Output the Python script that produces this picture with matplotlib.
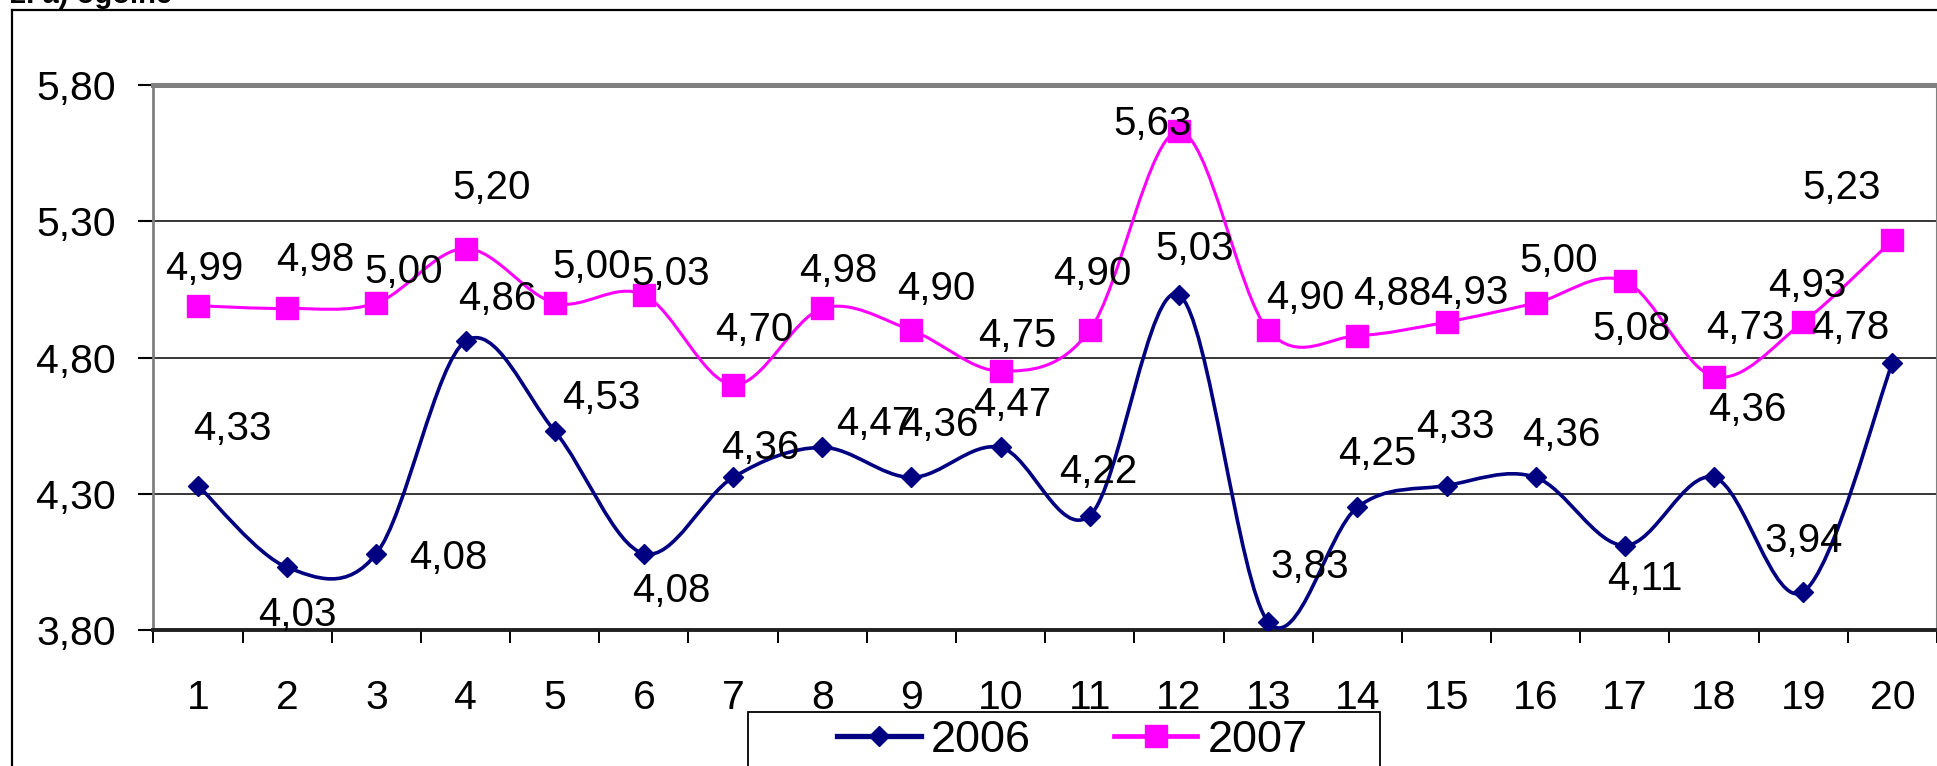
#!/usr/bin/env python3
"""Chart 2 a): yearly scores 2006 vs 2007 with Excel-style smoothed lines."""

import matplotlib

matplotlib.use("Agg")
import matplotlib.pyplot as plt
import numpy as np
from matplotlib.lines import Line2D
from matplotlib.patches import PathPatch, Rectangle
from matplotlib.path import Path
from matplotlib.ticker import FuncFormatter

plt.rcParams["font.family"] = ["Liberation Sans", "DejaVu Sans"]

# data
categories = list(range(1, 21))
values_2006 = [4.33, 4.03, 4.08, 4.86, 4.53, 4.08, 4.36, 4.47, 4.36, 4.47,
               4.22, 5.03, 3.83, 4.25, 4.33, 4.36, 4.11, 4.36, 3.94, 4.78]
values_2007 = [4.99, 4.98, 5.00, 5.20, 5.00, 5.03, 4.70, 4.98, 4.90, 4.75,
               4.90, 5.63, 4.90, 4.88, 4.93, 5.00, 5.08, 4.73, 4.93, 5.23]
series_names = ["2006", "2007"]
y_ticks = [3.80, 4.30, 4.80, 5.30, 5.80]
title_text = "2. a) ogólne"

# label offsets in pixels (dx, dy downwards) from each point, as placed in the original
offsets_2006 = [(34, -60), (10, 45), (72, 1), (32, -45), (47, -36), (27, 34), (27, -32),
                (53, -26), (28, -55), (12, -45), (8, -47), (16, -49), (42, -58), (20, -56),
                (9, -62), (26, -45), (20, 30), (33, -70), (0, -54), (-42, -38)]
offsets_2007 = [(6, -40), (28, -51), (27, -34), (26, -63), (37, -39), (27, -24), (21, -58),
                (16, -40), (25, -44), (17, -38), (3, -59), (-26, -10), (37, -35), (35, -45),
                (23, -32), (23, -45), (7, 45), (31, -52), (4, -39), (-51, -55)]

NAVY = "#000080"
MAGENTA = "#FF00FF"
W, H = 1937, 766


def smooth_path(xs, ys):
    """Bezier path through the points, like Excel's smoothed line."""
    pts = np.column_stack([xs, ys]).astype(float)
    n = len(pts)
    verts = [pts[0]]
    codes = [Path.MOVETO]
    for i in range(n - 1):
        p0 = pts[max(i - 1, 0)]
        p1 = pts[i]
        p2 = pts[i + 1]
        p3 = pts[min(i + 2, n - 1)]
        verts += [p1 + (p2 - p0) / 6.0, p2 - (p3 - p1) / 6.0, p2]
        codes += [Path.CURVE4] * 3
    return Path(verts, codes)


def px_to_fig(x, y):
    return x / W, 1 - y / H


fig = plt.figure(figsize=(W / 100, H / 100), dpi=100)
ax = fig.add_axes([153.4 / W, 1 - 630 / H, (1937 - 153.4) / W, (630 - 85) / H])

series = [
    (values_2006, NAVY, "D", 10, 2.6, offsets_2006),
    (values_2007, MAGENTA, "s", 15.5, 2.2, offsets_2007),
]
handles = []
for (vals, color, marker, ms, lw, offs), name in zip(series, series_names):
    ax.add_patch(PathPatch(smooth_path(categories, vals), fill=False,
                           edgecolor=color, lw=lw, zorder=3))
    ax.plot(categories, vals, linestyle="none", marker=marker, ms=ms,
            color=color, mec=color, zorder=4)
    for x, v, (dx, dy) in zip(categories, vals, offs):
        ax.annotate(f"{v:.2f}".replace(".", ","), (x, v), xytext=(dx, -(dy + 14)),
                    textcoords="offset pixels", ha="center", va="baseline",
                    fontsize=29, color="black", zorder=5)
    handles.append(Line2D([], [], color=color, lw=lw + 1.2, marker=marker, ms=ms, mec=color))

ax.set_xlim(0.5, 20.5)
ax.set_ylim(3.80, 5.80)

ax.set_xticks(np.arange(0.5, 21, 1))
ax.set_xticklabels([])
ax.set_xticks(categories, minor=True)
ax.set_xticklabels([str(c) for c in categories], minor=True)
ax.tick_params(axis="x", which="major", direction="out", length=9.5, width=1.4, color="black")
ax.tick_params(axis="x", which="minor", length=0, pad=35, labelsize=29.5)

ax.set_yticks(y_ticks)
ax.yaxis.set_major_formatter(FuncFormatter(lambda v, _: f"{v:.2f}".replace(".", ",")))
ax.tick_params(axis="y", direction="out", length=10.8, width=1.5, pad=16, labelsize=29.5)

ax.yaxis.grid(True, color="black", lw=1.1)
ax.set_axisbelow(True)

ax.spines["top"].set_color("#808080")
ax.spines["top"].set_linewidth(3.6)
ax.spines["left"].set_color("#808080")
ax.spines["left"].set_linewidth(2.0)
ax.spines["right"].set_color("#808080")
ax.spines["right"].set_linewidth(1.5)
ax.spines["bottom"].set_color("#202020")
ax.spines["bottom"].set_linewidth(2.8)

# outer chart frame (only top and left edges are in view)
x0, y0 = px_to_fig(12, 10)
fig.add_artist(Line2D([x0, x0], [y0, -0.05], color="black", lw=1.6, transform=fig.transFigure))
fig.add_artist(Line2D([x0, 1.05], [y0, y0], color="black", lw=1.6, transform=fig.transFigure))

# title, cut off by the top edge in the original scan
tx, ty = px_to_fig(10, 3)
fig.text(tx, ty, title_text, fontsize=21, fontweight="bold", va="baseline", ha="left")

# legend box running off the bottom edge
lx0, ly0 = px_to_fig(748, 712)
lx1, _ = px_to_fig(1380, 712)
fig.add_artist(Rectangle((lx0, -0.05), lx1 - lx0, ly0 + 0.05, fill=False,
                         edgecolor="black", lw=1.3, transform=fig.transFigure))
ax.legend(handles, series_names, loc="center left",
          bbox_to_anchor=px_to_fig(837, 740), bbox_transform=fig.transFigure,
          ncol=2, frameon=False, fontsize=32.5, handlelength=1.85, handletextpad=0.22,
          columnspacing=1.85, borderpad=0, borderaxespad=0)

fig.savefig("out.png", dpi=100)
